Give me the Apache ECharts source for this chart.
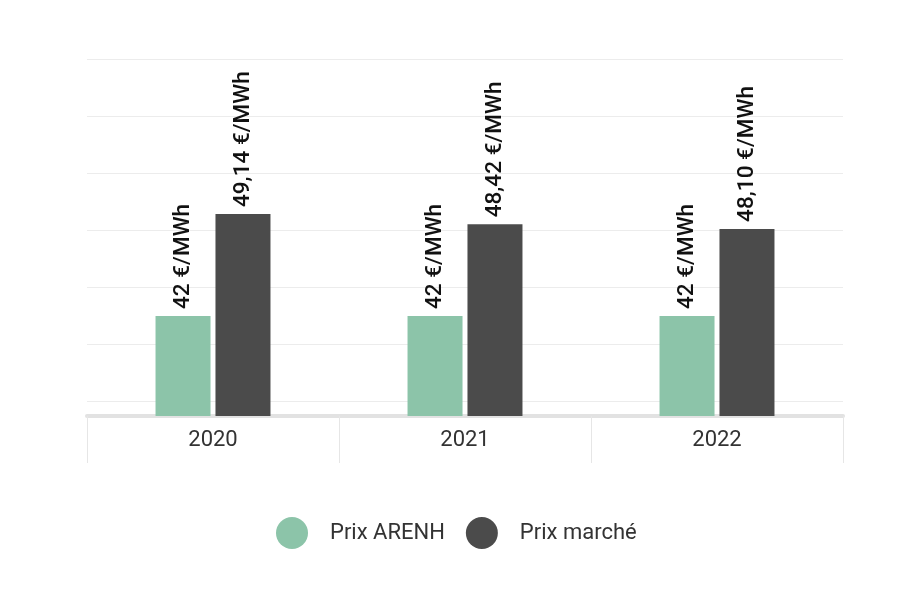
<!DOCTYPE html>
<html>
<head>
<meta charset="utf-8">
<script src="https://cdn.jsdelivr.net/npm/echarts@6/dist/echarts.min.js"></script>
<style>
html,body{margin:0;padding:0;background:#fff;}
#main{width:922px;height:592px;}
</style>
</head>
<body>
<div id="main"></div>
<script>
const categories = ['2020', '2021', '2022'];
const arenh = [42, 42, 42];
const marche = [49.14, 48.42, 48.10];
const gridTicks = [36, 40, 44, 48, 52, 56, 60];
const seriesNames = ['Prix ARENH', 'Prix marché'];

const chart = echarts.init(document.getElementById('main'));
const labelBase = {
  show: true,
  position: 'top',
  distance: 7,
  rotate: 90,
  align: 'left',
  verticalAlign: 'middle',
  fontFamily: 'Roboto',
  fontSize: 22.6,
  fontWeight: 500,
  color: '#111'
};
chart.setOption({
  animation: false,
  grid: { left: 87, right: 79, top: 59, bottom: 176 },
  legend: {
    top: 517,
    left: 276,
    padding: 0,
    icon: 'circle',
    itemWidth: 32,
    itemHeight: 32,
    itemGap: 21,
    textStyle: { fontFamily: 'Roboto', fontSize: 22, color: '#333', padding: [0, 0, 0, 17] },
    data: seriesNames
  },
  xAxis: {
    type: 'category',
    data: categories,
    axisLine: { show: true, lineStyle: { color: '#e2e2e2', width: 4 } },
    axisTick: { show: true, length: 47, lineStyle: { color: '#e6e6e6', width: 1 } },
    axisLabel: { fontFamily: 'Roboto', fontSize: 22, color: '#333', margin: 13 }
  },
  yAxis: {
    type: 'value',
    min: 35,
    max: 60,
    axisLine: { show: false },
    axisLabel: { show: false },
    axisTick: { show: false, customValues: gridTicks },
    splitLine: { show: true, lineStyle: { color: '#ececec', width: 1 } }
  },
  series: [
    {
      name: seriesNames[0],
      type: 'bar',
      data: arenh,
      barWidth: 55,
      barGap: '9%',
      itemStyle: { color: '#8cc4a9' },
      label: Object.assign({}, labelBase, {
        formatter: p => String(p.value).replace('.', ',') + ' €/MWh'
      })
    },
    {
      name: seriesNames[1],
      type: 'bar',
      data: marche,
      barWidth: 55,
      itemStyle: { color: '#4b4b4b' },
      label: Object.assign({}, labelBase, {
        formatter: p => p.value.toFixed(2).replace('.', ',') + ' €/MWh'
      })
    }
  ]
});
</script>
</body>
</html>
